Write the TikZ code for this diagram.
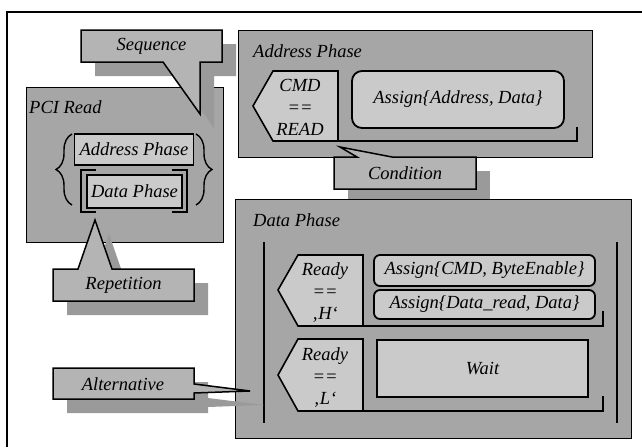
\documentclass[tikz,border=0pt]{standalone}
\usepackage{fontspec}
\setmainfont{Liberation Serif}
\usetikzlibrary{decorations.pathreplacing}
\definecolor{boxgray}{RGB}{166,166,166}
\definecolor{callgray}{RGB}{180,180,180}
\definecolor{shadegray}{RGB}{154,154,154}
\definecolor{innergray}{RGB}{202,202,202}
\begin{document}
\begin{tikzpicture}[x=1pt, y=-1pt,
  txt/.style={font=\itshape\fontsize{18.5}{22}\selectfont, inner sep=0pt, align=center},
  container/.style={fill=boxgray, draw=black, line width=1.3pt, inner sep=0pt},
  innerbox/.style={txt, fill=innergray, draw=black, line width=1.4pt},
  thickbox/.style={txt, fill=innergray, draw=black, line width=2pt},
  roundbox/.style={txt, fill=innergray, draw=black, line width=1.8pt, rounded corners=8pt},
  condbox/.style={fill=innergray, draw=black, line width=1.6pt},
  rule/.style={draw=black, line width=1.8pt},
  callout/.style={fill=callgray, draw=black, line width=1.5pt, line join=miter},
  shade/.style={fill=shadegray}
]
\useasboundingbox (0,0) rectangle (642,447);
\fill[white] (0,0) rectangle (642,447);

% outer frame
\draw[line width=2.2pt] (7,447) -- (7,12) -- (642,12);

% shadow of the condition callout, partly hidden by the data phase box
\fill[shade] (348,171) rectangle (490,203);

% ---------------- PCI Read ----------------
\node[container, anchor=north west, minimum width=197pt, minimum height=155pt] (pci) at (26,87) {};
\node[txt, anchor=base west] (pcilabel) at (29,113) {PCI Read};
\node[innerbox, minimum width=119pt, minimum height=31pt] (pciaddr) at (134,149.5) {Address Phase};
\node[thickbox, minimum width=95pt, minimum height=33pt] (pcidata) at (134.5,191.5) {Data Phase};
% repetition brackets round the data phase
\draw[rule, line width=1.6pt] (96,170) -- (81,170) -- (81,212) -- (96,212);
\draw[rule, line width=1.6pt] (172,170) -- (187,170) -- (187,212) -- (172,212);
% sequence braces
\draw[line width=1.4pt, decorate, decoration={brace, amplitude=16pt}] (72,205) -- (72,134);
\draw[line width=1.4pt, decorate, decoration={brace, amplitude=16pt}] (196,134) -- (196,205);

% ---------------- Address Phase ----------------
\node[container, anchor=north west, minimum width=354pt, minimum height=127pt] (addr) at (238,30) {};
\node[txt, anchor=base west] (addrlabel) at (253,57) {Address Phase};
\draw[condbox] (253,106) -- (273,71) -- (338,71) -- (338,141) -- (273,141) -- cycle;
\node[txt] (cmd) at (300,107) {CMD\\==\\READ};
\node[roundbox, rounded corners=10pt, minimum width=212pt, minimum height=57pt] (assignaddr) at (458,99.5) {Assign\{Address, Data\}};
\draw[rule] (338,141) -- (577,141) -- (577,127);

% ---------------- Data Phase ----------------
\node[container, anchor=north west, minimum width=396pt, minimum height=239pt] (data) at (235,199) {};
\node[txt, anchor=base west] (datalabel) at (253,226) {Data Phase};
\draw[rule] (264,242) -- (264,423);
\draw[rule] (617,242) -- (617,423);
% first branch
\draw[condbox] (278,290) -- (298,255) -- (363,255) -- (363,326) -- (298,326) -- cycle;
\node[txt] (readyh) at (325,292) {Ready\\==\\‚H‘};
\node[roundbox, rounded corners=6pt, minimum width=221pt, minimum height=31pt] (assigncmd) at (484.5,270.5) {Assign\{CMD, ByteEnable\}};
\node[roundbox, rounded corners=6pt, minimum width=221pt, minimum height=29pt] (assignread) at (484.5,304.5) {Assign\{Data\_read, Data\}};
\draw[rule] (363,326) -- (603,326) -- (603,311);
% second branch
\draw[condbox] (278,375) -- (298,339) -- (363,339) -- (363,411) -- (298,411) -- cycle;
\node[txt] (readyl) at (325,377) {Ready\\==\\‚L‘};
\node[thickbox, minimum width=211pt, minimum height=57pt] (wait) at (482.5,368.5) {Wait};
\draw[rule] (363,411) -- (603,411) -- (603,396);

% ---------------- callout shadows ----------------
\fill[shade] (95,44) -- (236,44) -- (236,76) -- (214,76) -- (214,128) -- (177,76) -- (95,76) -- cycle;
\fill[shade] (67,283) -- (92,283) -- (109,234) -- (126,283) -- (208,283) -- (208,315) -- (67,315) -- cycle;
\fill[shade] (67,382) -- (208,382) -- (208,398) -- (264,405) -- (208,407) -- (208,413) -- (67,413) -- cycle;

% ---------------- callouts ----------------
\draw[callout] (81,30) -- (222,30) -- (222,62) -- (200,62) -- (200,114) -- (163,62) -- (81,62) -- cycle;
\node[txt] (sequence) at (151.5,46.5) {Sequence};

\draw[callout] (53,269) -- (78,269) -- (95,220) -- (112,269) -- (194,269) -- (194,301) -- (53,301) -- cycle;
\node[txt] (repetition) at (123.5,285.5) {Repetition};

\draw[callout] (53,368) -- (194,368) -- (194,384) -- (250,391) -- (194,393) -- (194,399) -- (53,399) -- cycle;
\node[txt] (alternative) at (123,384) {Alternative};

\draw[callout] (334,157) -- (357,157) -- (340,147) -- (392,157) -- (476,157) -- (476,189) -- (334,189) -- cycle;
\node[txt] (condition) at (405,173.5) {Condition};
\end{tikzpicture}
\end{document}
